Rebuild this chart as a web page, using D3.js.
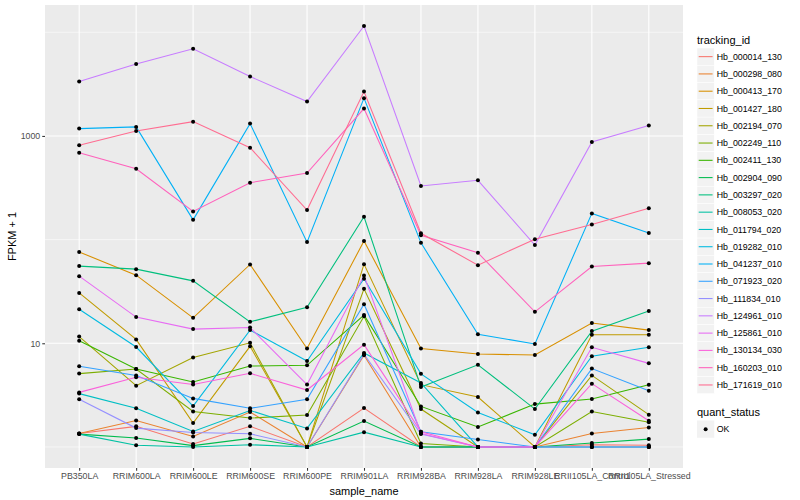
<!DOCTYPE html>
<html>
<head>
<meta charset="utf-8">
<script src="https://cdn.jsdelivr.net/npm/d3@7"></script>
<style>
  body { margin: 0; background: #fff; }
  svg { font-family: "Liberation Sans", Arial, sans-serif; }
</style>
</head>
<body>
<svg id="svg" width="800" height="500"></svg>
<script>
// samples on the x axis
const samples = ["PB350LA", "RRIM600LA", "RRIM600LE", "RRIM600SE", "RRIM600PE", "RRIM901LA",
  "RRIM928BA", "RRIM928LA", "RRIM928LE", "RRII105LA_Control", "RRII105LA_Stressed"];

const trackingIds = ["Hb_000014_130", "Hb_000298_080", "Hb_000413_170", "Hb_001427_180",
  "Hb_002194_070", "Hb_002249_110", "Hb_002411_130", "Hb_002904_090", "Hb_003297_020",
  "Hb_008053_020", "Hb_011794_020", "Hb_019282_010", "Hb_041237_010", "Hb_071923_020",
  "Hb_111834_010", "Hb_124961_010", "Hb_125861_010", "Hb_130134_030", "Hb_160203_010",
  "Hb_171619_010"];

// FPKM + 1, one array per tracking_id, in sample order
const hb_000014_130 = [1.35, 1.58, 1.07, 1.58, 1.0, 2.37, 1.0, 1.0, 1.0, 1.05, 1.04];
const hb_000298_080 = [1.35, 1.80, 1.26, 2.17, 1.0, 7.66, 1.0, 1.0, 1.0, 1.35, 1.54];
const hb_000413_170 = [76, 45.4, 17.6, 57.6, 8.9, 97, 8.9, 7.88, 7.7, 15.7, 13.4];
const hb_001427_180 = [30.6, 10.9, 1.70, 9.35, 1.0, 58, 3.99, 3.03, 1.0, 12.1, 12.1];
const hb_002194_070 = [11.6, 3.9, 7.3, 10.1, 1.0, 33.5, 2.32, 1.0, 1.0, 4.9, 2.05];
const hb_002249_110 = [5.1, 5.65, 2.2, 1.9, 2.03, 18.2, 1.08, 1.0, 1.0, 2.2, 1.73];
const hb_002411_130 = [10.6, 5.65, 4.23, 6.04, 6.13, 18.7, 2.46, 1.56, 2.59, 2.9, 3.98];
const hb_002904_090 = [1.33, 1.22, 1.03, 1.21, 1.0, 1.78, 1.0, 1.0, 1.0, 1.09, 1.19];
const hb_003297_020 = [55.5, 51.9, 40, 16.1, 22.3, 166, 3.78, 6.2, 2.32, 13.1, 20.5];
const hb_008053_020 = [1.33, 1.04, 1.0, 1.05, 1.0, 1.39, 1.0, 1.0, 1.0, 1.0, 1.0];
const hb_011794_020 = [3.27, 2.36, 1.41, 2.25, 1.51, 8.06, 4.14, 1.0, 1.0, 1.0, 1.0];
const hb_019282_010 = [21.3, 9.2, 2.48, 13.4, 6.75, 42, 5.07, 2.15, 1.31, 7.5, 9.15];
const hb_041237_010 = [1177, 1222, 155, 1315, 94.6, 2313, 93, 12.2, 9.85, 179, 116];
const hb_071923_020 = [6.0, 4.9, 2.94, 2.36, 2.88, 23.8, 1.4, 1.18, 1.0, 5.7, 3.49];
const hb_111834_010 = [2.88, 1.52, 1.38, 1.34, 1.0, 7.83, 1.33, 1.0, 1.0, 1.0, 1.0];
const hb_124961_010 = [3350, 4930, 6930, 3740, 2145, 11480, 329, 373, 88.5, 875, 1258];
const hb_125861_010 = [44.4, 17.9, 13.7, 14.2, 4.0, 45, 1.35, 1.0, 1.0, 9.15, 6.4];
const hb_130134_030 = [3.36, 4.7, 4.0, 5.13, 3.54, 9.7, 1.4, 1.0, 1.0, 4.08, 1.79];
const hb_160203_010 = [690, 483, 187, 354, 439, 1836, 110, 74.6, 20.1, 55, 59.3];
const hb_171619_010 = [813, 1117, 1374, 771, 193, 2680, 115, 56.7, 101, 140, 201];

const yTicks = [10, 1000];
const yMinor = [1, 100, 10000];

const allValues = [hb_000014_130, hb_000298_080, hb_000413_170, hb_001427_180, hb_002194_070,
  hb_002249_110, hb_002411_130, hb_002904_090, hb_003297_020, hb_008053_020, hb_011794_020,
  hb_019282_010, hb_041237_010, hb_071923_020, hb_111834_010, hb_124961_010, hb_125861_010,
  hb_130134_030, hb_160203_010, hb_171619_010];

// ggplot hue palette for 20 groups
const palette = ["#F8766D", "#EA8331", "#D89000", "#C09B00", "#A3A500", "#7CAE00", "#39B600",
  "#00BB4E", "#00BF7D", "#00C1A3", "#00BFC4", "#00BAE0", "#00B0F6", "#35A2FF", "#9590FF",
  "#C77CFF", "#E76BF3", "#FA62DB", "#FF62BC", "#FF6C91"];

const series = trackingIds.map((id, i) => ({
  id: id,
  color: palette[i],
  points: samples.map((s, j) => ({ sample: s, value: allValues[i][j] }))
}));

var svg = d3.select("#svg");

var panel = { left: 45, right: 683, top: 5, bottom: 468 };

var x = d3.scalePoint()
  .domain(samples)
  .range([panel.left, panel.right])
  .padding(0.6);

// log scale with 5% expansion in log space, like ggplot
var ext = d3.extent(allValues.flat());
var lo = Math.log10(ext[0]), hi = Math.log10(ext[1]);
var pad = (hi - lo) * 0.05;
var y = d3.scaleLog()
  .domain([Math.pow(10, lo - pad), Math.pow(10, hi + pad)])
  .range([panel.bottom, panel.top]);

svg.append("rect")
  .attr("x", panel.left)
  .attr("y", panel.top)
  .attr("width", panel.right - panel.left)
  .attr("height", panel.bottom - panel.top)
  .attr("fill", "#EBEBEB");

var grid = svg.append("g").attr("class", "grid");

grid.selectAll("line.minor")
  .data(yMinor)
  .enter()
  .append("line")
  .attr("x1", panel.left)
  .attr("x2", panel.right)
  .attr("y1", d => y(d))
  .attr("y2", d => y(d))
  .attr("stroke", "#fff")
  .attr("stroke-width", 0.55);

grid.selectAll("line.major")
  .data(yTicks)
  .enter()
  .append("line")
  .attr("x1", panel.left)
  .attr("x2", panel.right)
  .attr("y1", d => y(d))
  .attr("y2", d => y(d))
  .attr("stroke", "#fff")
  .attr("stroke-width", 1.1);

grid.selectAll("line.vert")
  .data(samples)
  .enter()
  .append("line")
  .attr("x1", d => x(d))
  .attr("x2", d => x(d))
  .attr("y1", panel.top)
  .attr("y2", panel.bottom)
  .attr("stroke", "#fff")
  .attr("stroke-width", 1.1);

var line = d3.line()
  .x(d => x(d.sample))
  .y(d => y(d.value));

svg.append("g")
  .attr("class", "lines")
  .selectAll("path")
  .data(series)
  .enter()
  .append("path")
  .attr("d", d => line(d.points))
  .attr("fill", "none")
  .attr("stroke", d => d.color)
  .attr("stroke-width", 1.07);

svg.append("g")
  .attr("class", "points")
  .selectAll("circle")
  .data(series.flatMap(d => d.points))
  .enter()
  .append("circle")
  .attr("cx", d => x(d.sample))
  .attr("cy", d => y(d.value))
  .attr("r", 2)
  .attr("fill", "#000");

// axes
var yAxis = svg.append("g")
  .attr("transform", `translate(${panel.left},0)`)
  .call(d3.axisLeft(y).tickValues(yTicks).tickFormat(d3.format("d")).tickSize(2.75).tickPadding(2));
yAxis.select(".domain").remove();
yAxis.selectAll("line").attr("stroke", "#333333").attr("stroke-width", 1.07);
yAxis.selectAll("text").attr("fill", "#4D4D4D").style("font-size", "8.8px")
  .style("font-family", "Liberation Sans, Arial, sans-serif");

var xAxis = svg.append("g")
  .attr("transform", `translate(0,${panel.bottom})`)
  .call(d3.axisBottom(x).tickSize(2.75).tickPadding(2));
xAxis.select(".domain").remove();
xAxis.selectAll("line").attr("stroke", "#333333").attr("stroke-width", 1.07);
xAxis.selectAll("text").attr("fill", "#4D4D4D").style("font-size", "8.8px")
  .style("font-family", "Liberation Sans, Arial, sans-serif");

svg.append("text")
  .attr("x", (panel.left + panel.right) / 2)
  .attr("y", 495)
  .attr("text-anchor", "middle")
  .style("font-size", "11px")
  .text("sample_name");

svg.append("text")
  .attr("transform", `translate(16,${(panel.top + panel.bottom) / 2}) rotate(-90)`)
  .attr("text-anchor", "middle")
  .style("font-size", "11px")
  .text("FPKM + 1");

// legends
var legend = svg.append("g").attr("transform", "translate(697,0)");

legend.append("text")
  .attr("x", 0)
  .attr("y", 44)
  .style("font-size", "11px")
  .text("tracking_id");

var keySize = 17.28;
var keys = legend.selectAll("g.key")
  .data(series)
  .enter()
  .append("g")
  .attr("transform", (d, i) => `translate(0,${48 + i * keySize})`);

keys.append("rect")
  .attr("width", keySize)
  .attr("height", keySize)
  .attr("fill", "#F2F2F2")
  .attr("stroke", "#fff")
  .attr("stroke-width", 0.5);

keys.append("line")
  .attr("x1", 1.7)
  .attr("x2", keySize - 1.7)
  .attr("y1", keySize / 2)
  .attr("y2", keySize / 2)
  .attr("stroke", d => d.color)
  .attr("stroke-width", 1.07);

keys.append("text")
  .attr("x", keySize + 2.5)
  .attr("y", keySize / 2)
  .attr("dy", "0.35em")
  .style("font-size", "8.8px")
  .text(d => d.id);

legend.append("text")
  .attr("x", 0)
  .attr("y", 416)
  .style("font-size", "11px")
  .text("quant_status");

var ok = legend.append("g").attr("transform", "translate(0,420.5)");
ok.append("rect")
  .attr("width", keySize)
  .attr("height", keySize)
  .attr("fill", "#F2F2F2");
ok.append("circle")
  .attr("cx", keySize / 2)
  .attr("cy", keySize / 2)
  .attr("r", 2)
  .attr("fill", "#000");
ok.append("text")
  .attr("x", keySize + 2.5)
  .attr("y", keySize / 2)
  .attr("dy", "0.35em")
  .style("font-size", "8.8px")
  .text("OK");
</script>
</body>
</html>
